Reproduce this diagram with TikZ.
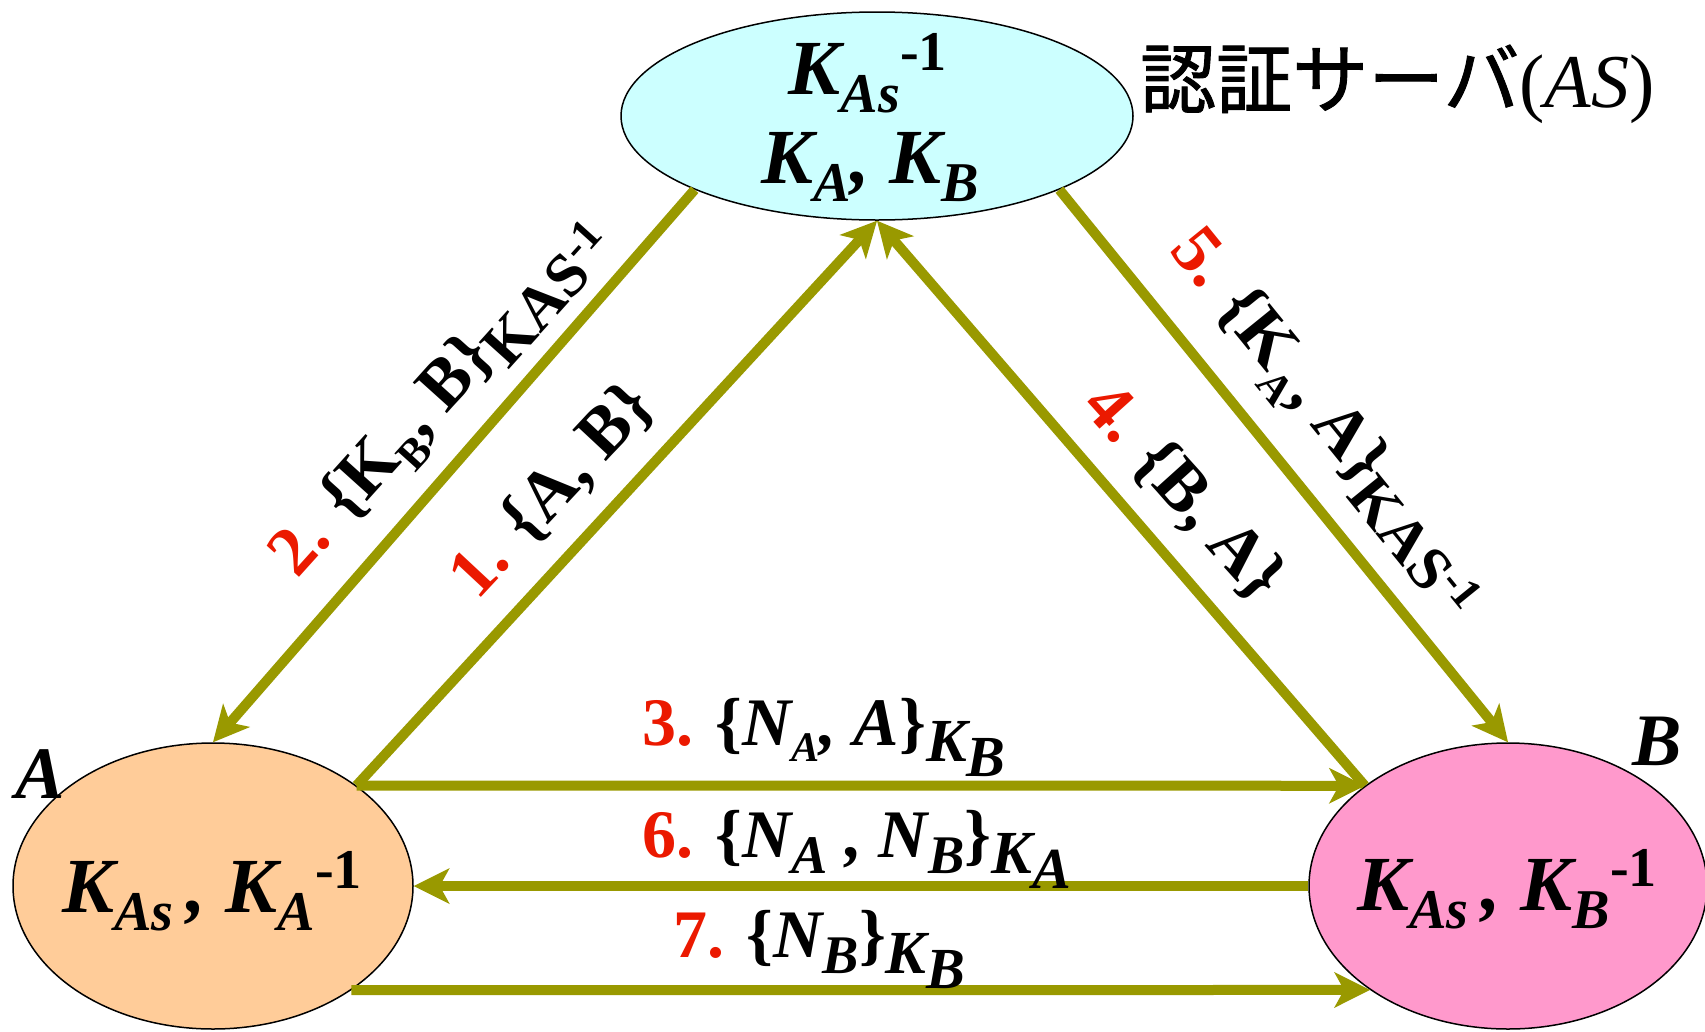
\documentclass[tikz,border=0pt]{standalone}
\usepackage{fontspec}
\setmainfont{Liberation Serif}
\newfontfamily\cjk{Noto Sans CJK JP}[FakeBold=1.2]
\usetikzlibrary{shapes.geometric,arrows.meta}
\definecolor{flowc}{RGB}{153,153,0}
\definecolor{numc}{RGB}{235,25,0}
\definecolor{asfill}{HTML}{CCFFFF}
\definecolor{afill}{HTML}{FFCC99}
\definecolor{bfill}{HTML}{FF99CC}
\newcommand\lo[2][0.72]{\raisebox{-0.24em}{\scalebox{#1}{#2}}}
\newcommand\hi[2][0.72]{\raisebox{0.3em}{\scalebox{#1}{#2}}}
\newcommand\rn[1]{{\color{numc}\upshape#1}}
\tikzset{
  flow/.style={draw=flowc, line width=10pt,
    -{Stealth[length=36pt,width=36pt,inset=10pt,line width=0pt]}},
  party/.style={ellipse, draw=black, line width=1.5pt, inner sep=0pt},
  bigtext/.style={font=\fontsize{78}{90}\selectfont\bfseries\itshape, inner sep=0pt},
  msg/.style={font=\fontsize{68}{78}\selectfont\bfseries, inner sep=0pt},
  diag/.style={font=\fontsize{70}{80}\selectfont\bfseries, inner sep=0pt},
}
\begin{document}
\begin{tikzpicture}[x=1pt,y=-1pt]
\useasboundingbox (0,0) rectangle (1705,1031);
\clip (0,0) rectangle (1705,1031);
% parties
\node[party, fill=asfill, minimum width=512pt, minimum height=208pt] (AS) at (877,116) {};
\node[party, fill=afill, minimum width=400pt, minimum height=286pt] (A) at (213,886) {};
\node[party, fill=bfill, minimum width=398pt, minimum height=286pt] (B) at (1508,886) {};
% texts in parties
\node[bigtext, anchor=base] (ASk1) at (868,94) {K\lo{As}\hi{\upshape -1}};
\node[bigtext, anchor=base] (ASk2) at (870,183) {K\lo{A}, K\lo{B}};
\node[bigtext, anchor=base] (Ak) at (212,912) {K\lo{As}\,, K\lo{A}\hi{\upshape -1}};
\node[bigtext, anchor=base] (Bk) at (1507,910) {K\lo{As}\,, K\lo{B}\hi{\upshape -1}};
% names
\node[bigtext, font=\fontsize{74}{84}\selectfont\bfseries\itshape, anchor=base] (Aname) at (40,798) {A};
\node[bigtext, font=\fontsize{74}{84}\selectfont\bfseries\itshape, anchor=base] (Bname) at (1657,765) {B};
\node[anchor=west, inner sep=0pt, font=\fontsize{76}{86}\selectfont] (ASname) at (1140,84) {{\cjk 認証サーバ}(\textit{AS})};
% flows
\draw[flow] (AS.-158) -- (A.north);
\draw[flow] (A.35) -- (AS.south);
\draw[flow] (B.145) -- (AS.south);
\draw[flow] (AS.-22) -- (B.north);
\draw[flow] (A.35) -- (B.145);
\draw[flow] (B.west) -- (A.east);
\draw[flow] (A.-37) -- (B.-143);
% messages
\node[diag, rotate=48] (L2) at (440,398) {\rn{2.} \{K\lo[0.62]{B}, B\}\lo[0.88]{KAS\hi{-1}}};
\node[diag, rotate=47] (L1) at (553,492) {\rn{1.} \{A, B\}};
\node[diag, rotate=-48] (L4) at (1183,493) {\rn{4.} \{B, A\}};
\node[diag, rotate=-51] (L5) at (1327,422) {\rn{5.} \{K\lo[0.62]{A}, A\}\lo[0.88]{KAS\hi{-1}}};
\node[msg, anchor=base west] (L3) at (642,745) {\rn{3.} \{\textit{N\lo[0.62]{A}, A}\}\lo[0.9]{\textit{K\lo[0.95]{B}}}};
\node[msg, anchor=base west] (L6) at (642,857) {\rn{6.} \{\textit{N\lo[0.8]{A} , N\lo[0.8]{B}}\}\lo[0.9]{\textit{K\lo[0.95]{A}}}};
\node[msg, anchor=base west] (L7) at (673,957) {\rn{7.} \{\textit{N\lo[0.8]{B}}\}\lo[0.9]{\textit{K\lo[0.95]{B}}}};
\end{tikzpicture}
\end{document}
